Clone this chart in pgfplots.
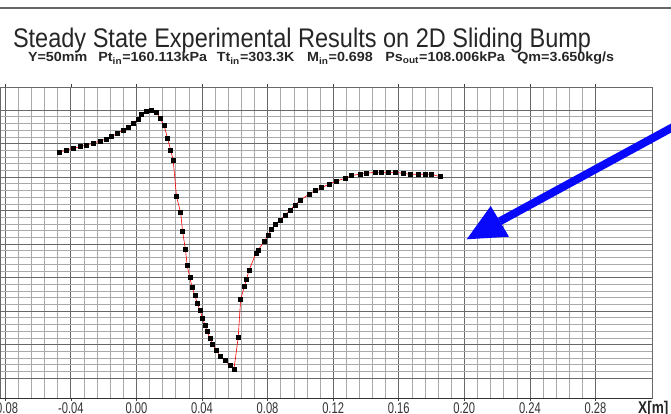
\documentclass[border=0pt]{standalone}
\usepackage{pgfplots}
\pgfplotsset{compat=1.18}
\usepackage{graphicx}
\usepackage{fontspec}
\setmainfont{Liberation Sans}
\newfontfamily\narrowfont[FakeStretch=0.8]{Liberation Sans}
\newfontfamily\ticknarrow[FakeStretch=0.72]{Liberation Sans}

\definecolor{majgrid}{RGB}{105,105,105}
\definecolor{mingrid}{RGB}{170,170,170}
\definecolor{arrowblue}{RGB}{8,8,250}

% measured points, x in m, y in grid units (one major division = 1)
\pgfplotstableread{
x y
-0.0471 6.737
-0.0426 6.806
-0.0386 6.857
-0.0345 6.904
-0.0304 6.955
-0.0264 7.006
-0.0223 7.075
-0.0182 7.134
-0.0151 7.203
-0.0117 7.304
-0.0081 7.403
-0.0050 7.472
-0.0020 7.603
0.0011 7.731
0.0032 7.881
0.0058 7.970
0.0093 8.000
0.0123 7.931
0.0143 7.752
0.0168 7.552
0.0190 7.155
0.0209 6.806
0.0224 6.507
0.0245 5.412
0.0270 4.934
0.0282 4.367
0.0299 3.842
0.0310 3.352
0.0326 2.994
0.0340 2.707
0.0357 2.457
0.0371 2.230
0.0387 2.030
0.0404 1.782
0.0418 1.582
0.0432 1.382
0.0448 1.185
0.0465 1.015
0.0485 0.836
0.0509 0.657
0.0540 0.516
0.0570 0.388
0.0595 0.260
0.0621 1.215
0.0636 2.349
0.0658 2.725
0.0672 2.955
0.0686 3.203
0.0729 3.722
0.0743 3.821
0.0778 4.069
0.0804 4.269
0.0825 4.439
0.0849 4.597
0.0875 4.707
0.0906 4.851
0.0936 5.000
0.0967 5.164
0.1002 5.313
0.1054 5.493
0.1089 5.591
0.1130 5.681
0.1176 5.791
0.1221 5.881
0.1272 5.961
0.1313 6.039
0.1363 6.090
0.1404 6.110
0.1455 6.140
0.1496 6.140
0.1536 6.140
0.1577 6.140
0.1627 6.110
0.1668 6.081
0.1719 6.081
0.1760 6.081
0.1801 6.081
0.1851 6.009
}\bumpdata

\begin{document}
\begin{tikzpicture}
\begin{axis}[
    at={(0pt,15pt)}, anchor=south west,
    scale only axis, width=652pt, height=311pt,
    xmin=-0.0832, xmax=0.3145,
    ymin=-0.597, ymax=8.687,
    xtick={-0.08,-0.04,0,0.04,0.08,0.12,0.16,0.20,0.24,0.28},
    minor x tick num=4,
    ytick={0,1,2,3,4,5,6,7,8},
    minor y tick num=4,
    yticklabels={},
    grid=both,
    major grid style={majgrid, line width=0.7pt},
    minor grid style={mingrid, line width=0.5pt},
    axis line style={majgrid, line width=0.6pt},
    tick align=outside,
    major x tick style={black!75, line width=0.6pt},
    major tick length=3pt,
    minor tick length=0pt,
    major y tick style={draw=none},
    xticklabel style={
        /pgf/number format/fixed,
        /pgf/number format/fixed zerofill,
        /pgf/number format/precision=2,
        /pgf/number format/assume math mode=true,
        font=\ticknarrow\fontsize{15.5}{15.5}\selectfont,
        text=black!80, inner sep=0pt, yshift=-1.5pt},
]
\addplot[red, line width=0.6pt, mark=square*, mark size=2pt,
    mark options={black, fill=black}] table {\bumpdata};
\end{axis}

% bottom axis line
\draw[black!80, line width=1pt] (0pt,15pt) -- (652pt,15pt);
% window border at the top
\draw[black!60, line width=2pt] (0pt,404.5pt) -- (671pt,404.5pt);

% titles
\node[anchor=base west, inner sep=0pt, text=black!85] at (12.8pt,365pt)
    {\resizebox{578pt}{19.5pt}{Steady State Experimental Results on 2D Sliding Bump}};
\node[anchor=base west, inner sep=0pt, text=black!85] at (27.8pt,351pt)
    {\resizebox{586pt}{9.6pt}{\bfseries Y=50mm\hspace{0.5em}
     Pt\textsubscript{in}=160.113kPa\hspace{0.4em}
     Tt\textsubscript{in}=303.3K\hspace{0.6em}
     M\textsubscript{in}=0.698\hspace{0.6em}
     Ps\textsubscript{out}=108.006kPa\hspace{0.6em}
     Qm=3.650kg/s}};

% axis name
\node[anchor=north west, inner sep=0pt, text=black!85] at (638pt,12pt)
    {\narrowfont\fontsize{17}{17}\selectfont\bfseries X[m]};

% blue arrow
\draw[arrowblue, line width=8pt] (499.8pt,191.7pt) -- (690pt,295.2pt);
\fill[arrowblue] (466.7pt,173.7pt) -- (490.7pt,207pt) -- (509pt,176.3pt) -- cycle;

\pgfresetboundingbox
\path[use as bounding box] (0pt,0pt) rectangle (671pt,413pt);
\end{tikzpicture}
\end{document}
